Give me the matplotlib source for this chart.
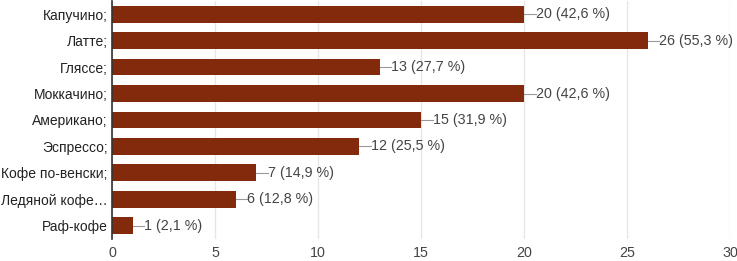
import matplotlib
matplotlib.use("Agg")
import matplotlib.pyplot as plt
import numpy as np

plt.rcParams["font.family"] = ["Liberation Sans", "DejaVu Sans"]

labels = ["Капучино;", "Латте;", "Гляссе;", "Моккачино;", "Американо;",
          "Эспрессо;", "Кофе по-венски;", "Ледяной кофе…", "Раф-кофе"]
counts = [20, 26, 13, 20, 15, 12, 7, 6, 1]
percents = ["42,6", "55,3", "27,7", "42,6", "31,9", "25,5", "14,9", "12,8", "2,1"]
xticks = [0, 5, 10, 15, 20, 25, 30]

bar_color = "#832a0c"
text_color = "#444444"

fig = plt.figure(figsize=(7.37, 2.61), dpi=100)
ax = fig.add_axes([0.152, 0.085, 0.839, 0.911])

y = np.arange(len(labels))
ax.barh(y, counts, height=0.63, color=bar_color, zorder=2)

# подписи значений с короткой выноской
for yi, c, p in zip(y, counts, percents):
    ax.plot([c, c + 0.55], [yi, yi], color="#999999", linewidth=0.8, zorder=3)
    ax.text(c + 0.55, yi, f"{c} ({p} %)", va="center", ha="left",
            fontsize=10.3, color=text_color)

ax.set_xlim(0, 30)
ax.set_ylim(len(labels) - 0.5, -0.5)
ax.set_xticks(xticks)
ax.set_yticks(y)
ax.set_yticklabels(labels, fontsize=10, color="#222222")
ax.tick_params(axis="x", labelsize=10.3, colors="#444444", length=0, pad=5)
ax.tick_params(axis="y", length=0, pad=3)

ax.grid(axis="x", color="#e6e6e6", linewidth=1, zorder=0)
for s in ["top", "right", "bottom"]:
    ax.spines[s].set_visible(False)
ax.spines["left"].set_color("#333333")
ax.spines["left"].set_linewidth(1.2)
ax.spines["left"].set_zorder(4)

fig.savefig("out.png", dpi=100)
